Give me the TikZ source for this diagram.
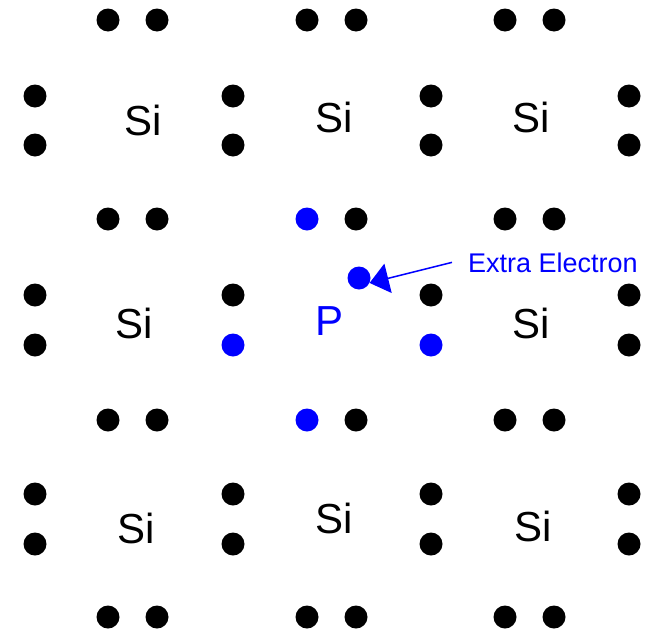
\documentclass[tikz,border=0pt]{standalone}
\usepackage{fontspec}
\setmainfont{Liberation Sans}
\usetikzlibrary{arrows.meta}
\definecolor{donorblue}{HTML}{0000FF}

\begin{document}
\begin{tikzpicture}[
    x=1pt, y=-1pt,
    electron/.style={circle, fill=black, inner sep=0pt, minimum size=23pt},
    donor/.style={electron, fill=donorblue},
    atom/.style={font=\fontsize{42}{50}\selectfont, inner sep=0pt, anchor=base},
    note/.style={font=\fontsize{27}{32}\selectfont, text=donorblue, inner sep=0pt, anchor=base west},
    pointer/.style={-{Triangle[length=19pt, width=30pt]}, donorblue, line width=1.5pt}
  ]
  \useasboundingbox (0,0) rectangle (651,635);

  % atoms
  \node[atom] (si11) at (143,135) {Si};
  \node[atom] (si12) at (334,132) {Si};
  \node[atom] (si13) at (531,132) {Si};
  \node[atom] (si21) at (134,338) {Si};
  \node[atom, text=donorblue] (phos) at (330,335) {P};
  \node[atom] (si23) at (531,338) {Si};
  \node[atom] (si31) at (136,543) {Si};
  \node[atom] (si32) at (334,533) {Si};
  \node[atom] (si33) at (533,541) {Si};

  % horizontal pairs
  \node[electron] (h11a) at (108,20) {};
  \node[electron] (h11b) at (157,20) {};
  \node[electron] (h12a) at (307,20) {};
  \node[electron] (h12b) at (356,20) {};
  \node[electron] (h13a) at (505,20) {};
  \node[electron] (h13b) at (554,20) {};

  \node[electron] (h21a) at (108,219) {};
  \node[electron] (h21b) at (157,219) {};
  \node[donor] (h22a) at (307,219) {};
  \node[electron] (h22b) at (356,219) {};
  \node[electron] (h23a) at (505,219) {};
  \node[electron] (h23b) at (554,219) {};

  \node[electron] (h31a) at (108,420) {};
  \node[electron] (h31b) at (157,420) {};
  \node[donor] (h32a) at (307,420) {};
  \node[electron] (h32b) at (356,420) {};
  \node[electron] (h33a) at (505,420) {};
  \node[electron] (h33b) at (554,420) {};

  \node[electron] (h41a) at (108,617) {};
  \node[electron] (h41b) at (157,617) {};
  \node[electron] (h42a) at (307,617) {};
  \node[electron] (h42b) at (356,617) {};
  \node[electron] (h43a) at (505,617) {};
  \node[electron] (h43b) at (554,617) {};

  % vertical pairs
  \node[electron] (v11a) at (35,96) {};
  \node[electron] (v11b) at (35,145) {};
  \node[electron] (v12a) at (233,96) {};
  \node[electron] (v12b) at (233,145) {};
  \node[electron] (v13a) at (431,96) {};
  \node[electron] (v13b) at (431,145) {};
  \node[electron] (v14a) at (629,96) {};
  \node[electron] (v14b) at (629,145) {};

  \node[electron] (v21a) at (35,295) {};
  \node[electron] (v21b) at (35,345) {};
  \node[electron] (v22a) at (233,295) {};
  \node[donor] (v22b) at (233,345) {};
  \node[electron] (v23a) at (431,295) {};
  \node[donor] (v23b) at (431,345) {};
  \node[electron] (v24a) at (629,295) {};
  \node[electron] (v24b) at (629,345) {};

  \node[electron] (v31a) at (35,494) {};
  \node[electron] (v31b) at (35,544) {};
  \node[electron] (v32a) at (233,494) {};
  \node[electron] (v32b) at (233,544) {};
  \node[electron] (v33a) at (431,494) {};
  \node[electron] (v33b) at (431,544) {};
  \node[electron] (v34a) at (629,494) {};
  \node[electron] (v34b) at (629,544) {};

  % extra electron and its label
  \node[donor] (extra) at (359,278) {};
  \node[note] (extralabel) at (468,272) {Extra Electron};

  \draw[pointer] ([xshift=-16pt]extralabel.west) -- (extra.-25);
\end{tikzpicture}
\end{document}
